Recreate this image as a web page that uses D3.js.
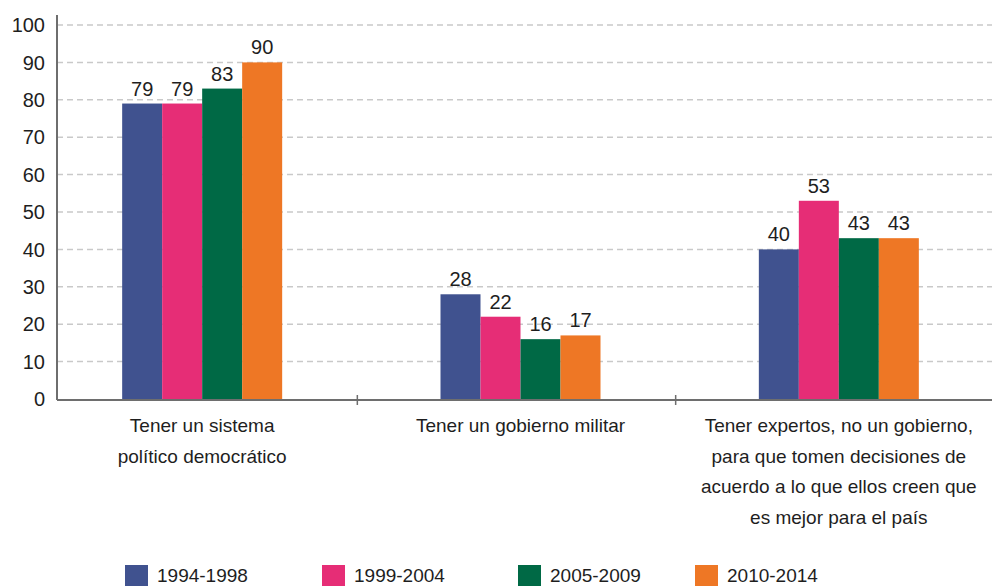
<!DOCTYPE html>
<html>
<head>
<meta charset="utf-8">
<script src="https://cdn.jsdelivr.net/npm/d3@7"></script>
<style>
    body { margin: 0; background: #fff; }
    text { font-family: "Liberation Sans Narrow", "Arial Narrow", "Liberation Sans", sans-serif; fill: #1e1e1e; }
</style>
</head>
<body>
<div id="chart"></div>
<script>
const categories = [
    ["Tener un sistema", "político democrático"],
    ["Tener un gobierno militar"],
    ["Tener expertos, no un gobierno,", "para que tomen decisiones de", "acuerdo a lo que ellos creen que", "es mejor para el país"]
]
const periods = ["1994-1998", "1999-2004", "2005-2009", "2010-2014"]
const colors = ["#40528f", "#e62d76", "#006945", "#ee7725"]
const values = [
    [79, 79, 83, 90],
    [28, 22, 16, 17],
    [40, 53, 43, 43]
]
const yTicks = [0, 10, 20, 30, 40, 50, 60, 70, 80, 90, 100]

const W = 992, H = 586
const plotLeft = 57, plotRight = 992, plotTop = 25, plotBottom = 399

const svg = d3.select("#chart")
    .append("svg")
    .attr("width", W)
    .attr("height", H)

const y = d3.scaleLinear()
    .domain([0, 100])
    .range([plotBottom, plotTop])

const x = d3.scaleBand()
    .domain(d3.range(categories.length))
    .range([43, 998])
    .padding(0)

const xs = d3.scaleBand()
    .domain(d3.range(periods.length))
    .range([0, 160])
    .padding(0)

// grid
svg.append("g")
    .selectAll("line")
    .data(yTicks.filter(d => d > 0))
    .join("line")
    .attr("x1", plotLeft)
    .attr("x2", plotRight)
    .attr("y1", d => y(d))
    .attr("y2", d => y(d))
    .attr("stroke", "#c9c9c9")
    .attr("stroke-width", 1.5)
    .attr("stroke-dasharray", "6,4")

// y tick labels
svg.append("g")
    .selectAll("text")
    .data(yTicks)
    .join("text")
    .attr("x", 45)
    .attr("y", d => y(d))
    .attr("dy", "0.36em")
    .attr("text-anchor", "end")
    .style("font-size", "20px")
    .text(d => d)

// bars
const groups = svg.append("g")
    .selectAll("g")
    .data(values)
    .join("g")
    .attr("transform", (d, i) => `translate(${x(i) + x.bandwidth() / 2 - 80},0)`)

groups.selectAll("rect")
    .data(d => d)
    .join("rect")
    .attr("x", (d, j) => xs(j))
    .attr("y", d => y(d))
    .attr("width", xs.bandwidth())
    .attr("height", d => plotBottom - y(d))
    .attr("fill", (d, j) => colors[j])

groups.selectAll("text")
    .data(d => d)
    .join("text")
    .attr("x", (d, j) => xs(j) + xs.bandwidth() / 2)
    .attr("y", d => y(d) - 8)
    .attr("text-anchor", "middle")
    .style("font-size", "20px")
    .text(d => d)

// axes lines
svg.append("line")
    .attr("x1", plotLeft).attr("x2", plotLeft)
    .attr("y1", 15).attr("y2", plotBottom + 1)
    .attr("stroke", "#6e6e6e")
    .attr("stroke-width", 2)
svg.append("line")
    .attr("x1", plotLeft).attr("x2", plotRight)
    .attr("y1", plotBottom + 1).attr("y2", plotBottom + 1)
    .attr("stroke", "#6e6e6e")
    .attr("stroke-width", 2)
svg.append("g")
    .selectAll("line")
    .data(d3.range(1, categories.length))
    .join("line")
    .attr("x1", d => x(d) - 4)
    .attr("x2", d => x(d) - 4)
    .attr("y1", plotBottom - 4)
    .attr("y2", plotBottom + 6)
    .attr("stroke", "#6e6e6e")
    .attr("stroke-width", 1.5)

// category labels
svg.append("g")
    .selectAll("text")
    .data(categories)
    .join("text")
    .attr("x", (d, i) => x(i) + x.bandwidth() / 2)
    .attr("y", 432)
    .attr("text-anchor", "middle")
    .style("font-size", "19px")
    .each(function(lines) {
        const t = d3.select(this)
        const cx = t.attr("x")
        lines.forEach((l, k) => {
            t.append("tspan")
                .attr("x", cx)
                .attr("dy", k === 0 ? 0 : 30.5)
                .text(l)
        })
    })

// legend
const legendX = [125, 322, 518, 695]
const legend = svg.append("g")
    .selectAll("g")
    .data(periods)
    .join("g")
    .attr("transform", (d, i) => `translate(${legendX[i]},565)`)
legend.append("rect")
    .attr("width", 23)
    .attr("height", 21)
    .attr("fill", (d, i) => colors[i])
legend.append("text")
    .attr("x", 32)
    .attr("y", 17)
    .style("font-size", "19px")
    .text(d => d)
</script>
</body>
</html>
